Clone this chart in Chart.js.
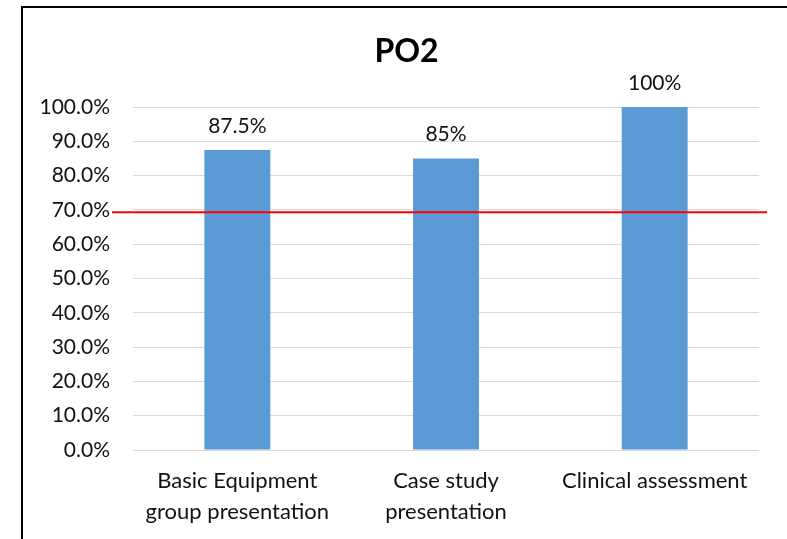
<!DOCTYPE html>
<html>
<head>
<meta charset="utf-8">
<script src="https://cdn.jsdelivr.net/npm/chart.js@4/dist/chart.umd.min.js"></script>
<style>
  html, body { margin: 0; padding: 0; background: #fff; }
  #wrap { position: relative; width: 787px; height: 539px; overflow: hidden; }
  #frame { position: absolute; left: 21px; top: 6px; width: 800px; height: 540px;
           border-top: 2px solid #000; border-left: 2px solid #000; box-sizing: border-box; pointer-events: none; }
  canvas { position: absolute; left: 0; top: 0; }
</style>
</head>
<body>
<div id="wrap">
  <canvas id="c" width="787" height="539"></canvas>
  <div id="frame"></div>
</div>
<script>
const categories = [['Basic Equipment', 'group presentation'], ['Case study', 'presentation'], 'Clinical assessment'];
const values = [87.5, 85, 100];
const valueLabels = ['87.5%', '85%', '100%'];
const thresholdValue = 69.3;
const yTicks = [0, 10, 20, 30, 40, 50, 60, 70, 80, 90, 100];
const chartTitle = 'PO2';

const FONT = 'Lato, "Open Sans", sans-serif';

const titlePlugin = {
  id: 'centeredTitle',
  afterDraw(chart) {
    const ctx = chart.ctx;
    ctx.save();
    ctx.font = 'bold 32px ' + FONT;
    ctx.fillStyle = '#000';
    ctx.textAlign = 'center';
    ctx.textBaseline = 'middle';
    ctx.fillText(chartTitle, (22 + chart.width) / 2 + 2, 52);
    ctx.restore();
  }
};

const labelPlugin = {
  id: 'valueLabels',
  afterDatasetsDraw(chart) {
    const ctx = chart.ctx;
    const meta = chart.getDatasetMeta(0);
    ctx.save();
    ctx.font = '21px ' + FONT;
    ctx.fillStyle = '#111';
    ctx.textAlign = 'center';
    ctx.textBaseline = 'alphabetic';
    meta.data.forEach((bar, i) => {
      ctx.fillText(valueLabels[i], bar.x, bar.y - 17);
    });
    ctx.restore();
  }
};

const thresholdPlugin = {
  id: 'threshold',
  afterDraw(chart) {
    const ctx = chart.ctx;
    const y = chart.scales.y.getPixelForValue(thresholdValue);
    ctx.save();
    ctx.strokeStyle = '#FF0000';
    ctx.lineWidth = 2;
    ctx.beginPath();
    ctx.moveTo(chart.chartArea.left - 21, y);
    ctx.lineTo(chart.chartArea.right + 8, y);
    ctx.stroke();
    ctx.restore();
  }
};

new Chart(document.getElementById('c'), {
  type: 'bar',
  data: {
    labels: categories,
    datasets: [{
      data: values,
      backgroundColor: '#5B9BD5',
      borderWidth: 0,
      categoryPercentage: 1,
      barPercentage: 0.316
    }]
  },
  options: {
    responsive: false,
    animation: false,
    layout: { padding: { left: 22, right: 28, top: 107, bottom: 0 } },
    plugins: {
      legend: { display: false },
      tooltip: { enabled: false },
      title: { display: false }
    },
    scales: {
      x: {
        grid: { display: false, drawTicks: false },
        border: { display: false },
        ticks: {
          color: '#111',
          font: { family: FONT, size: 22, lineHeight: 1.4 },
          padding: 16,
          maxRotation: 0,
          autoSkip: false
        },
        afterFit(scale) { scale.height = 89; }
      },
      y: {
        min: 0,
        max: 100,
        afterBuildTicks(scale) { scale.ticks = yTicks.map(v => ({ value: v })); },
        grid: { color: '#D9D9D9', lineWidth: 1, drawTicks: false },
        border: { display: false },
        ticks: {
          color: '#111',
          font: { family: FONT, size: 21 },
          padding: 23,
          callback: v => v.toFixed(1) + '%'
        },
        afterFit(scale) { scale.width = 111; }
      }
    }
  },
  plugins: [labelPlugin, thresholdPlugin, titlePlugin]
});
</script>
</body>
</html>
